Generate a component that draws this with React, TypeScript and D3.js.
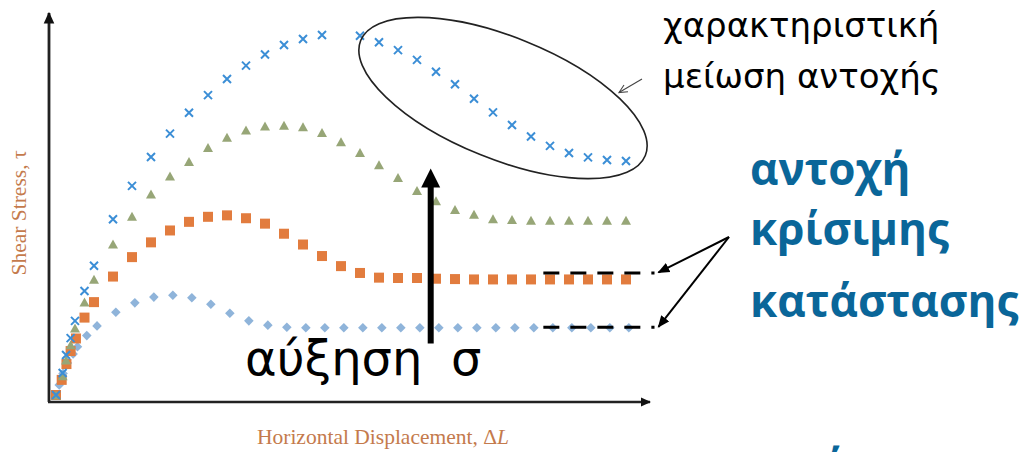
import React from 'react';
import * as d3 from 'd3';

// Horizontal displacement (arbitrary units) and shear stress (% of the highest peak)
const crossX = [0, 0.35, 0.53, 0.77, 1.0, 1.5, 2, 3, 4, 5, 6, 7, 8, 9, 10, 11, 12, 13, 14, 16, 17, 18, 19, 20, 21, 22, 23, 24, 25, 26, 27, 28, 29, 30];
const crossY = [0, 6.1, 11.1, 15.8, 20.6, 28.9, 35.9, 48.8, 58.1, 66.1, 72.6, 78.4, 83.3, 87.8, 91.5, 94.6, 97.2, 98.9, 100, 99.8, 98.0, 95.8, 93.1, 89.8, 86.3, 82.3, 78.5, 75.0, 71.8, 69.2, 67.2, 66.0, 65.3, 65.0];

const triX = [0, 0.35, 0.53, 0.77, 1.0, 1.5, 2, 3, 4, 5, 6, 7, 8, 9, 10, 11, 12, 13, 14, 15, 16, 17, 18, 19, 20, 21, 22, 23, 24, 25, 26, 27, 28, 29, 30];
const triY = [0, 5.3, 9.7, 13.9, 18.6, 25.8, 32.1, 41.9, 49.6, 55.8, 60.8, 64.8, 68.7, 71.6, 73.6, 74.7, 74.9, 74.5, 72.9, 70.3, 67.3, 63.9, 60.4, 56.8, 53.9, 51.5, 50.2, 48.9, 48.7, 48.5, 48.5, 48.5, 48.5, 48.5, 48.5];

const sqX = [0, 0.3, 0.55, 0.77, 1.05, 1.5, 2, 3, 4, 5, 6, 7, 8, 9, 10, 11, 12, 13, 14, 15, 16, 17, 18, 19, 20, 21, 22, 23, 24, 25, 26, 27, 28, 29, 30];
const sqY = [0, 4.2, 8.6, 12.2, 15.7, 21.5, 25.8, 32.9, 38.3, 42.4, 45.7, 48.1, 49.5, 49.9, 49.1, 47.6, 44.8, 41.8, 38.6, 35.8, 33.9, 32.6, 32.5, 32.5, 32.3, 32.2, 32.1, 32.1, 32.1, 32.1, 32.1, 32.1, 32.1, 32.1, 32.1];

const diaX = [0, 0.17, 0.37, 0.6, 0.9, 1.13, 1.62, 2.16, 3.15, 4.15, 5.15, 6.15, 7.15, 8.15, 9.15, 10.15, 11.15, 12.15, 13.15, 14.15, 15.15, 16.15, 17.15, 18.15, 19.15, 20.15, 21.15, 22.15, 23.15, 24.15, 25.15, 26.15, 27.15, 28.15, 29.15, 30.15];
const diaY = [0, 2.8, 6.0, 8.9, 11.4, 13.4, 16.5, 19.2, 23.0, 25.6, 27.2, 27.7, 27.0, 25.2, 22.7, 20.6, 19.4, 18.8, 18.7, 18.7, 18.7, 18.7, 18.7, 18.7, 18.7, 18.7, 18.7, 18.7, 18.7, 18.7, 18.7, 18.7, 18.7, 18.7, 18.7, 18.7];

// Critical-state levels marked with dashed lines
const criticalLevels = [33.9, 18.8];
const criticalFrom = 25.65;
const criticalTo = 31.5;

const xLabel = 'Horizontal Displacement, ';
const yLabel = 'Shear Stress, τ';
const noteLines = ['χαρακτηριστική', 'μείωση αντοχής'];
const criticalLines = ['αντοχή', 'κρίσιμης', 'κατάστασης'];
const increaseWord = 'αύξηση';
const sigma = 'σ';

const W = 1023;
const H = 452;

const C_CROSS = '#3b8ed6';
const C_TRI = '#97a677';
const C_SQ = '#e27c3e';
const C_DIA = '#8fb4da';
const C_LABEL = '#c47a4c';
const C_BLUE = '#0a6699';

function zip(xs: number[], ys: number[]) {
  return xs.map((v, i) => [v, ys[i]] as [number, number]);
}

export default function App() {
  const x = d3.scaleLinear().domain([0, 30]).range([56, 626]);
  const y = d3.scaleLinear().domain([0, 100]).range([395, 35]);

  const axisX0 = 49;
  const axisY0 = 402;

  const triPath = 'M0,-4.6L5,4.4L-5,4.4Z';
  const diaPath = 'M0,-4.8L4.8,0L0,4.8L-4.8,0Z';

  // thin open arrow pointing at the ellipse
  const noteFrom: [number, number] = [642, 79];
  const noteTip: [number, number] = [619, 92.5];
  const ang = Math.atan2(noteFrom[1] - noteTip[1], noteFrom[0] - noteTip[0]);
  const headLen = 9;
  const hA = [noteTip[0] + headLen * Math.cos(ang + 0.45), noteTip[1] + headLen * Math.sin(ang + 0.45)];
  const hB = [noteTip[0] + headLen * Math.cos(ang - 0.45), noteTip[1] + headLen * Math.sin(ang - 0.45)];

  const calloutFrom: [number, number] = [729, 237];

  return (
    <svg
      width={W}
      height={H}
      viewBox={`0 0 ${W} ${H}`}
      style={{ position: 'absolute', left: 0, top: 0, background: '#fff', overflow: 'hidden' }}
    >
      <defs>
        <marker id="head" viewBox="0 0 10 10" refX="9" refY="5" markerWidth="6" markerHeight="6" markerUnits="strokeWidth" orient="auto">
          <path d="M0,0.8L10,5L0,9.2Z" fill="#000" />
        </marker>
        <marker id="axhead" viewBox="0 0 10 10" refX="9" refY="5" markerWidth="4.2" markerHeight="4.2" markerUnits="strokeWidth" orient="auto">
          <path d="M0,0.5L10,5L0,9.5Z" fill="#111" />
        </marker>
      </defs>

      {/* axes */}
      <line x1={axisX0} y1={axisY0} x2={axisX0} y2={13} stroke="#222" strokeWidth={2.8} markerEnd="url(#axhead)" />
      <line x1={axisX0 - 1} y1={axisY0} x2={650} y2={axisY0} stroke="#222" strokeWidth={2.4} markerEnd="url(#axhead)" />

      <text
        transform={`translate(26,${213}) rotate(-90)`}
        textAnchor="middle"
        fontFamily="'Liberation Serif', 'DejaVu Serif', serif"
        fontSize={21.5}
        fill={C_LABEL}
      >
        {yLabel}
      </text>
      <text x={383} y={444} textAnchor="middle" fontFamily="'Liberation Serif', 'DejaVu Serif', serif" fontSize={21.5} fill={C_LABEL}>
        {xLabel}
        <tspan>Δ</tspan>
        <tspan fontStyle="italic">L</tspan>
      </text>

      {/* series */}
      <g fill={C_DIA}>
        {zip(diaX, diaY).map(([a, b], i) => (
          <path key={i} d={diaPath} transform={`translate(${x(a)},${y(b)})`} />
        ))}
      </g>
      <g fill={C_SQ}>
        {zip(sqX, sqY).map(([a, b], i) => (
          <rect key={i} x={x(a) - 5} y={y(b) - 5} width={10} height={10} />
        ))}
      </g>
      <g fill={C_TRI}>
        {zip(triX, triY).map(([a, b], i) => (
          <path key={i} d={triPath} transform={`translate(${x(a)},${y(b)})`} />
        ))}
      </g>
      <g stroke={C_CROSS} strokeWidth={2} fill="none">
        {zip(crossX, crossY).map(([a, b], i) => (
          <path key={i} d="M-4,-4L4,4M-4,4L4,-4" transform={`translate(${x(a)},${y(b)})`} />
        ))}
      </g>

      {/* critical-state dashed levels */}
      {criticalLevels.map((v, i) => (
        <line key={i} x1={x(criticalFrom)} x2={x(criticalTo)} y1={y(v)} y2={y(v)} stroke="#000" strokeWidth={3} strokeDasharray="16,11" />
      ))}

      {/* callouts to the dashed levels */}
      {criticalLevels.map((v, i) => (
        <line key={i} x1={calloutFrom[0]} y1={calloutFrom[1]} x2={x(criticalTo) + 4} y2={y(v) - 0.5} stroke="#000" strokeWidth={2} markerEnd="url(#head)" />
      ))}

      {/* softening region */}
      <ellipse cx={503} cy={98} rx={153.5} ry={61} transform="rotate(22 503 98)" fill="none" stroke="#222" strokeWidth={1.6} />
      <line x1={noteFrom[0]} y1={noteFrom[1]} x2={noteTip[0]} y2={noteTip[1]} stroke="#444" strokeWidth={1.1} />
      <path d={`M${hA[0]},${hA[1]}L${noteTip[0]},${noteTip[1]}L${hB[0]},${hB[1]}`} fill="none" stroke="#444" strokeWidth={1.1} />

      {/* increasing normal stress */}
      <line x1={430.7} y1={343.5} x2={430.7} y2={182} stroke="#000" strokeWidth={6} />
      <path d="M421.2,187.5L430.7,168.5L440.2,187.5Z" fill="#000" />

      <g fontFamily="'DejaVu Sans', Verdana, sans-serif" fill="#000">
        <text x={245} y={375} fontSize={48}>{increaseWord}</text>
        <text x={451} y={375} fontSize={48}>{sigma}</text>
        <text x={663} y={37} fontSize={34}>{noteLines[0]}</text>
        <text x={663} y={88} fontSize={34}>{noteLines[1]}</text>
      </g>

      <g fontFamily="'Open Sans', sans-serif" fontWeight={700} fill={C_BLUE} fontSize={44}>
        <text x={750} y={185}>{criticalLines[0]}</text>
        <text x={750} y={245}>{criticalLines[1]}</text>
        <text x={750} y={317}>{criticalLines[2]}</text>
        <text x={819} y={481}>ή</text>
      </g>
    </svg>
  );
}
